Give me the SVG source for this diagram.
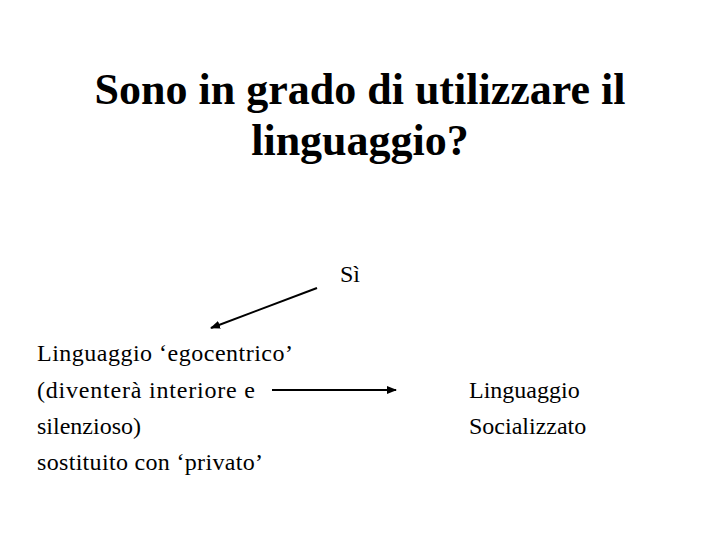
<svg xmlns="http://www.w3.org/2000/svg" width="720" height="540" viewBox="0 0 720 540">
<style>
text{font-family:'Liberation Serif','DejaVu Serif',serif;fill:#000}
.t{font-size:44px;font-weight:bold;text-anchor:middle}
.b{font-size:24px}
.c{stroke:#000;stroke-width:2;fill:none}
</style>
<defs>
<marker id="ah" viewBox="0 0 10 10" refX="9" refY="5" markerWidth="5" markerHeight="5" orient="auto" markerUnits="strokeWidth">
<path d="M0,1 L10,5 L0,9 z" fill="#000"/>
</marker>
</defs>
<rect width="720" height="540" fill="#fff"/>
<g id="title">
<text class="t" x="360" y="104">Sono in grado di utilizzare il</text>
<text class="t" x="360" y="155">linguaggio?</text>
</g>
<g id="si"><text class="b" x="340" y="282">Sì</text></g>
<g id="egocentrico">
<text class="b" x="37" y="361" textLength="256" lengthAdjust="spacing">Linguaggio ‘egocentrico’</text>
<text class="b" x="37" y="398" textLength="218" lengthAdjust="spacing">(diventerà interiore e</text>
<text class="b" x="37" y="434">silenzioso)</text>
<text class="b" x="37" y="470" textLength="226" lengthAdjust="spacing">sostituito con ‘privato’</text>
</g>
<g id="socializzato">
<text class="b" x="469" y="398">Linguaggio</text>
<text class="b" x="469" y="434">Socializzato</text>
</g>
<g id="connectors">
<line class="c" x1="317" y1="288" x2="211" y2="328" marker-end="url(#ah)"/>
<line class="c" x1="272" y1="390" x2="396" y2="390" marker-end="url(#ah)"/>
</g>
</svg>
